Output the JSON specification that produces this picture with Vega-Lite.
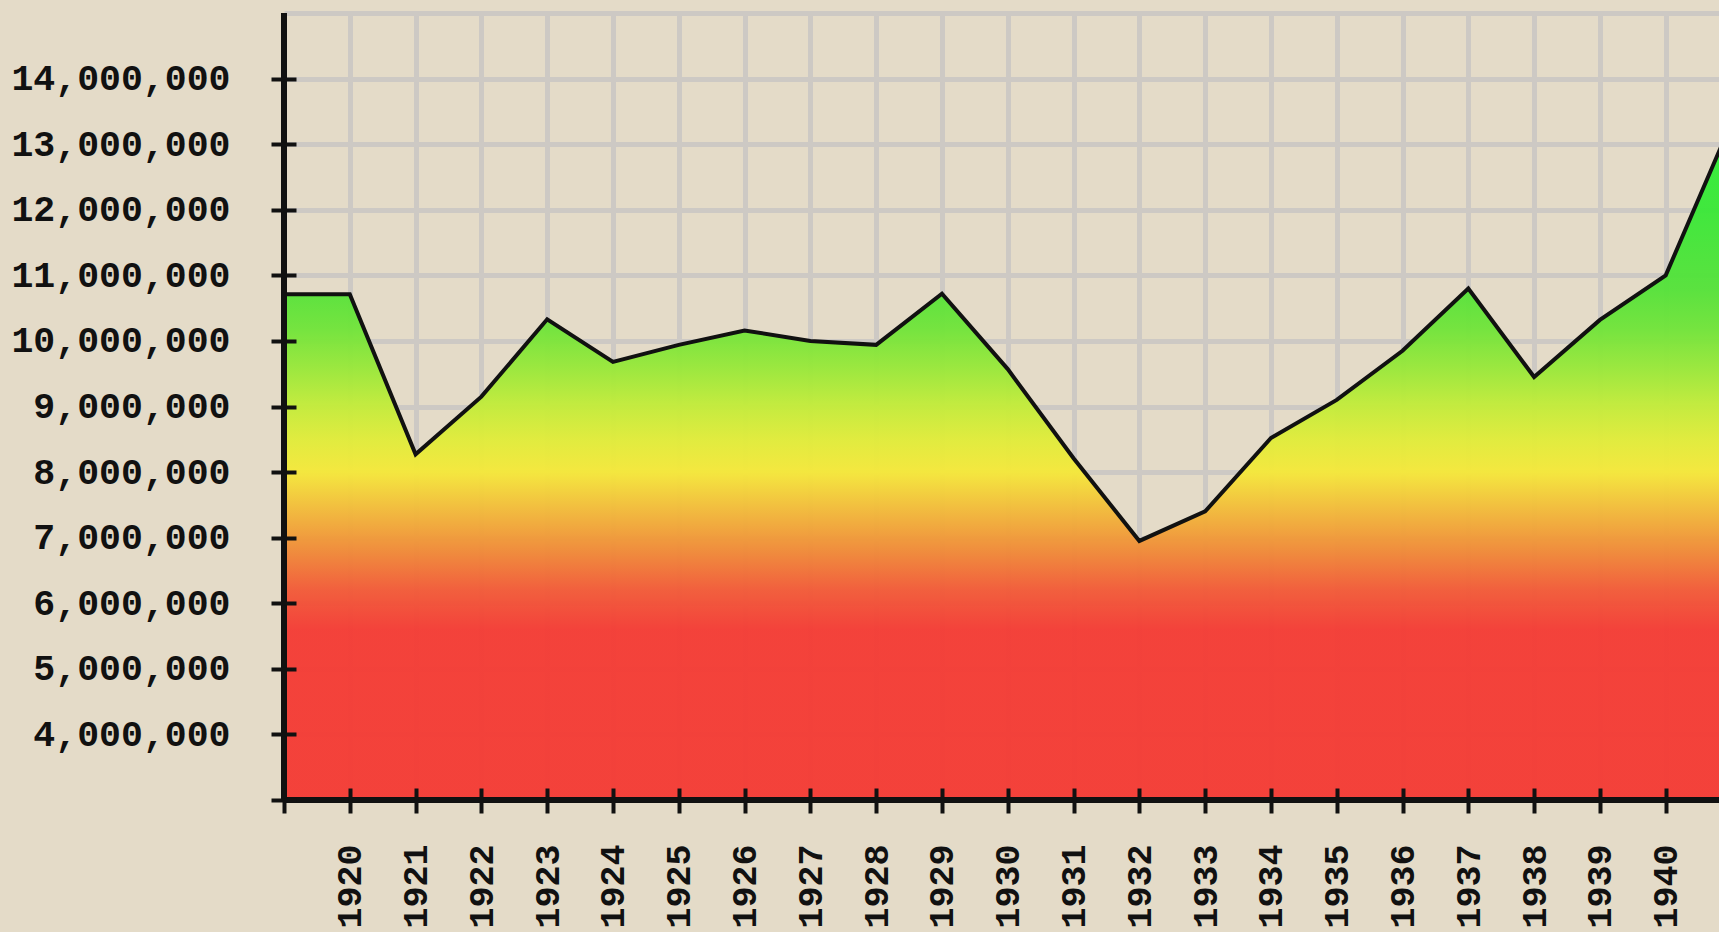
{
  "$schema": "https://vega.github.io/schema/vega-lite/v6.json",
  "width": 1435,
  "height": 787,
  "autosize": {"type": "none"},
  "padding": {"left": 284, "top": 13, "right": 0, "bottom": 132},
  "background": "#e4dbc8",
  "config": {"view": {"stroke": null}},
  "data": {
    "values": [
      {"year": 1919, "value": 10710000},
      {"year": 1920, "value": 10710000},
      {"year": 1921, "value": 8270000},
      {"year": 1922, "value": 9150000},
      {"year": 1923, "value": 10330000},
      {"year": 1924, "value": 9680000},
      {"year": 1925, "value": 9940000},
      {"year": 1926, "value": 10160000},
      {"year": 1927, "value": 10000000},
      {"year": 1928, "value": 9940000},
      {"year": 1929, "value": 10720000},
      {"year": 1930, "value": 9570000},
      {"year": 1931, "value": 8210000},
      {"year": 1932, "value": 6950000},
      {"year": 1933, "value": 7400000},
      {"year": 1934, "value": 8520000},
      {"year": 1935, "value": 9100000},
      {"year": 1936, "value": 9850000},
      {"year": 1937, "value": 10800000},
      {"year": 1938, "value": 9450000},
      {"year": 1939, "value": 10320000},
      {"year": 1940, "value": 11000000},
      {"year": 1941, "value": 13330000}
    ]
  },
  "resolve": {
    "scale": {"x": "independent", "y": "independent"},
    "axis": {"x": "independent", "y": "independent"}
  },
  "layer": [
    {
      "mark": {
        "type": "area",
        "clip": true,
        "fillOpacity": 0.96,
        "color": {
          "gradient": "linear",
          "x1": 0, "y1": 1, "x2": 0, "y2": 0,
          "stops": [
            {"offset": 0, "color": "#f43a34"},
            {"offset": 0.42, "color": "#f43c35"},
            {"offset": 0.465, "color": "#f25a38"},
            {"offset": 0.51, "color": "#f08a38"},
            {"offset": 0.555, "color": "#f2b83a"},
            {"offset": 0.6, "color": "#f5e83a"},
            {"offset": 0.635, "color": "#e2ec3a"},
            {"offset": 0.675, "color": "#c4ec3a"},
            {"offset": 0.72, "color": "#98e83a"},
            {"offset": 0.765, "color": "#70e43a"},
            {"offset": 0.81, "color": "#55e23a"},
            {"offset": 0.9, "color": "#3ae838"},
            {"offset": 1, "color": "#2cf038"}
          ]
        }
      },
      "encoding": {
        "x": {
          "field": "year",
          "type": "quantitative",
          "scale": {"domain": [1919, 1940.81], "nice": false, "zero": false},
          "axis": {
            "orient": "bottom",
            "title": null,
            "values": [1920, 1921, 1922, 1923, 1924, 1925, 1926, 1927, 1928, 1929, 1930, 1931, 1932, 1933, 1934, 1935, 1936, 1937, 1938, 1939, 1940],
            "labels": false,
            "ticks": false,
            "domain": false,
            "grid": true,
            "gridColor": "#cdc9c4",
            "gridWidth": 5,
            "zindex": 0
          }
        },
        "y": {
          "field": "value",
          "type": "quantitative",
          "scale": {"domain": [3000000, 15000000], "nice": false, "zero": false},
          "axis": {
            "orient": "left",
            "title": null,
            "values": [4000000, 5000000, 6000000, 7000000, 8000000, 9000000, 10000000, 11000000, 12000000, 13000000, 14000000, 15000000],
            "labels": false,
            "ticks": false,
            "domain": false,
            "grid": true,
            "gridColor": "#cdc9c4",
            "gridWidth": 5,
            "zindex": 0
          }
        }
      }
    },
    {
      "layer": [
        {
          "mark": {"type": "line", "clip": true, "stroke": "#111111", "strokeWidth": 4},
          "encoding": {
            "x": {
              "field": "year",
              "type": "quantitative",
              "scale": {"domain": [1919, 1940.81], "nice": false, "zero": false},
              "axis": {
                "orient": "bottom",
                "title": null,
                "values": [1919, 1920, 1921, 1922, 1923, 1924, 1925, 1926, 1927, 1928, 1929, 1930, 1931, 1932, 1933, 1934, 1935, 1936, 1937, 1938, 1939, 1940],
                "format": "d",
                "labelExpr": "datum.value == 1919 ? '' : datum.label",
                "labelAngle": -90,
                "labelFont": "Liberation Mono",
                "labelFontWeight": "bold",
                "labelFontSize": 35,
                "labelColor": "#111111",
                "labelPadding": 31,
                "labelLimit": 0,
                "labelFlush": false,
                "labelOverlap": false,
                "labelBound": false,
                "tickSize": 25,
                "tickWidth": 4,
                "tickColor": "#111111",
                "offset": -12,
                "domain": false,
                "grid": false,
                "zindex": 2
              }
            },
            "y": {
              "field": "value",
              "type": "quantitative",
              "scale": {"domain": [3000000, 15000000], "nice": false, "zero": false},
              "axis": {
                "orient": "left",
                "title": null,
                "values": [3000000, 4000000, 5000000, 6000000, 7000000, 8000000, 9000000, 10000000, 11000000, 12000000, 13000000, 14000000],
                "format": ",d",
                "labelExpr": "datum.value == 3000000 ? '' : datum.label",
                "labelFont": "Liberation Mono",
                "labelFontWeight": "bold",
                "labelFontSize": 36.5,
                "labelColor": "#111111",
                "labelPadding": 41,
                "labelLimit": 0,
                "labelOverlap": false,
                "labelBound": false,
                "labelFlush": false,
                "tickSize": 25,
                "tickWidth": 4,
                "tickColor": "#111111",
                "offset": -12,
                "domain": false,
                "grid": false,
                "zindex": 2
              }
            }
          }
        },
        {
          "mark": {"type": "rule", "stroke": "#111111", "strokeWidth": 5},
          "encoding": {"x": {"datum": 1919, "type": "quantitative"}}
        },
        {
          "mark": {"type": "rule", "stroke": "#111111", "strokeWidth": 5},
          "encoding": {"y": {"datum": 3000000, "type": "quantitative"}}
        }
      ]
    }
  ]
}
